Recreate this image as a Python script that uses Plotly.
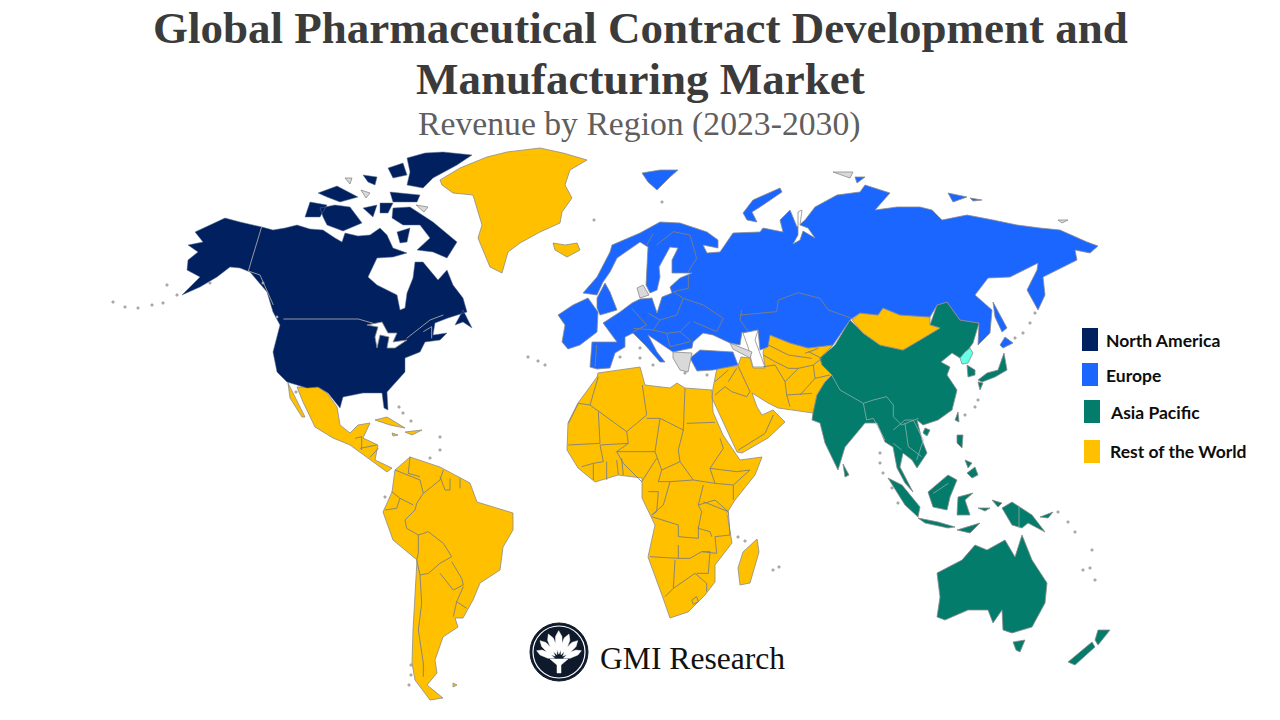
import plotly.graph_objects as go

# Map outlines, in picture pixels (x, y)
na_main = [(225,218),(240,222),(262,227),(273,230),(285,228),(297,225),(310,229),(323,230),(335,238),(342,242),(345,233),(358,236),(370,235),(380,228),(387,235),
           (393,248),(407,253),(393,257),(377,258),(372,268),(368,277),(377,285),(397,295),(400,310),(405,308),(407,293),
           (413,278),(415,262),(423,262),(438,280),(447,270),(453,285),(463,298),(467,312),(448,318),(435,323),
           (433,335),(447,333),(440,340),(425,342),(420,352),(405,358),(405,372),(387,392),(388,410),(384,408),
           (382,393),(363,393),(343,397),(340,408),(328,393),(318,387),(307,388),(287,382),(277,372),(273,352),
           (280,325),(273,312),(267,292),(250,272),(240,268),(230,267),(217,277),(200,287),(182,295),(200,277),(187,270),
           (188,260),(198,252),(188,245),(203,242),(195,232),(210,225)]
baffin = [(393,208),(410,207),(433,222),(445,232),(457,242),(447,258),(433,252),(417,250),(430,238),(420,225),(403,225),(392,218)]
victoria = [(320,208),(335,205),(350,207),(362,223),(343,231),(327,225),(323,217)]
banks = [(310,202),(327,205),(320,217),(305,217)]
ellesmere = [(407,158),(425,153),(443,152),(472,155),(457,165),(433,178),(423,188),(407,185),(410,172)]
axel = [(388,168),(403,163),(407,175),(393,178)]
melville = [(318,193),(337,186),(358,197),(340,202),(327,197)]
bathurst = [(363,175),(377,177),(375,185),(368,182)]
devon = [(390,192),(420,195),(417,202),(393,202)]
somerset = [(380,203),(393,203),(388,213),(380,213)]
pr_wales = [(363,208),(377,205),(373,217)]
southampton = [(397,232),(410,228),(407,242),(400,243)]
newfoundland = [(455,325),(463,310),(472,328),(463,322)]
lakes = [(367,325),(382,322),(388,333),(397,333),(393,342),(407,340),(395,348),(387,348),(389,337),(380,335),(377,348),(375,337),(378,327)]

greenland = [(440,180),(460,168),(487,157),(507,152),(540,148),(563,153),(587,160),(570,170),(565,185),(572,198),
             (562,212),(560,223),(540,232),(520,243),(508,252),(502,273),(490,267),(478,238),(482,225),(478,212),
             (473,195),(453,193),(442,185)]
iceland = [(553,243),(565,245),(577,243),(580,250),(567,257),(555,250)]

eurasia = [(583,293),(597,277),(610,252),(612,245),(640,233),(660,222),(680,223),(707,232),(718,240),(718,248),
           (703,245),(707,253),(720,252),(727,242),(733,233),(760,232),(763,228),(783,232),(780,220),(790,210),
           (797,227),(805,220),(815,207),(837,195),(860,192),(865,185),(890,193),(875,210),(897,207),(920,207),
           (932,210),(942,220),(967,215),(993,220),(1017,225),(1040,228),(1060,230),(1087,242),(1098,246),(1090,253),
           (1075,250),(1077,260),(1057,270),(1043,277),(1045,295),(1038,310),(1027,290),(1037,270),(1038,263),(1030,267),
           (1010,277),(988,278),(975,295),(992,310),(990,333),(978,345),(979,323),(960,320),(947,302),(937,305),
           (930,317),(900,315),(883,308),(878,315),(860,313),(850,320),(833,345),(808,348),(790,343),(770,335),
           (768,347),(760,350),(758,330),(743,333),(742,332),(740,345),(730,343),(713,335),(703,333),(693,342),
           (692,348),(673,352),(648,335),(657,352),(665,362),(660,362),(645,345),(633,333),(625,337),(625,347),
           (615,353),(610,368),(597,369),(590,367),(592,342),(617,342),(603,323),(620,312),(632,303),(640,299),
           (652,298),(657,313),(662,297),(672,293),(670,287),(680,278),(692,273),(672,273),(672,260),(678,248),
           (670,247),(659,267),(660,277),(657,290),(650,293),(646,285),(647,258),(648,247),(640,242),(617,258),
           (610,272),(603,282),(597,295)]
ireland = [(558,315),(573,305),(588,298),(598,312),(597,332),(580,345),(568,349),(562,342),(565,325)]
britain = [(597,298),(605,283),(610,292),(617,310),(607,313),(600,315),(597,308)]
turkey = [(690,358),(700,350),(733,352),(738,365),(713,370),(697,371)]
svalbard = [(642,173),(660,170),(678,170),(670,177),(657,190),(648,182)]
novaya = [(743,213),(753,200),(780,188),(782,192),(760,207),(752,212),(757,222),(747,220)]
severnaya = [(855,177),(865,177),(857,183)]
new_siberia = [(948,193),(967,197),(953,202)]
new_siberia2 = [(970,198),(982,200),(973,201)]
sakhalin = [(993,302),(1007,328),(1002,332),(995,317)]
hokkaido = [(1005,337),(1013,343),(1003,348),(1000,345)]
ob_gulf = [(798,212),(802,210),(800,225),(808,228),(815,238),(803,231),(800,240),(793,244),(798,235)]
caspian = [(743,333),(758,330),(755,340),(765,367),(753,367),(748,347)]

denmark = [(637,288),(643,285),(649,295),(640,298)]
greece = [(673,352),(692,353),(688,372),(680,370),(673,358)]
caucasus = [(730,343),(752,352),(750,358),(740,353),(733,349)]
franz_josef = [(833,172),(853,172),(850,178)]
wrangel = [(1058,220),(1068,220),(1062,223)]
queen_eliz = [(345,178),(352,178),(350,184)]
arctic_gray1 = [(416,205),(428,207),(424,212)]
arctic_gray2 = [(361,190),(370,193),(366,198)]

asia_main = [(979,323),(973,343),(968,350),(960,358),(952,353),(941,362),(950,367),(947,375),(957,390),(952,410),
             (938,420),(923,425),(917,420),(922,440),(927,453),(917,468),(912,460),(903,453),(900,467),(913,492),
             (905,483),(897,468),(893,447),(885,442),(877,423),(865,423),(845,447),(838,470),(825,443),(820,423),
             (812,420),(813,413),(817,395),(825,382),(832,375),(822,365),(820,358),(835,345),(850,320),(863,333),
             (880,345),(903,350),(920,340),(940,328),(930,325),(937,305),(947,302),(960,320)]
s_korea = [(967,365),(975,370),(975,375),(968,377)]
honshu = [(1004,353),(1007,370),(995,377),(982,382),(978,380),(987,373),(998,370)]
kyushu = [(978,382),(983,383),(980,390)]
taiwan = [(958,412),(959,422),(955,420)]
hainan = [(925,428),(930,430),(927,436),(923,433)]
sri_lanka = [(843,464),(849,475),(845,477)]
luzon = [(957,435),(963,435),(962,448),(957,443)]
visayas = [(965,460),(972,463),(968,468)]
mindanao = [(967,473),(975,467),(978,475),(972,478)]
borneo = [(928,492),(948,475),(957,480),(950,497),(947,510),(933,507)]
sumatra = [(888,478),(902,485),(920,507),(918,517),(905,505)]
java = [(918,518),(938,522),(955,527),(948,528),(925,523)]
sulawesi = [(958,497),(973,493),(965,500),(970,515),(957,515)]
new_guinea = [(1002,508),(1012,502),(1032,515),(1045,532),(1028,523),(1022,528),(1012,525)]
birds_head = [(992,500),(1002,503),(998,507)]
sunda = [(957,530),(980,523),(970,533)]
ceram = [(978,508),(990,508),(985,511)]
new_britain = [(1040,517),(1053,512),(1048,518)]
australia = [(937,573),(962,560),(975,545),(987,550),(1005,540),(1015,557),(1022,535),(1032,560),(1047,583),(1045,603),
             (1032,627),(1012,633),(1003,630),(1002,610),(993,623),(988,610),(968,610),(945,620),(937,617),(940,597)]
tasmania = [(1013,642),(1025,640),(1020,652),(1016,650)]
nz_south = [(1068,662),(1092,642),(1095,647),(1075,665)]
nz_north = [(1098,630),(1110,630),(1098,645),(1095,640)]
n_korea = [(970,348),(973,353),(968,363),(962,364),(960,358),(965,352)]

mongolia = [(852,320),(860,313),(878,315),(883,308),(900,315),(930,317),(930,325),(940,328),(920,340),(903,350),(880,345),(863,333)]
mideast = [(715,378),(717,368),(738,366),(741,357),(750,358),(753,368),(765,368),(763,352),(768,337),(770,335),(790,343),(808,348),(833,345),(820,358),(822,365),
           (832,375),(825,382),(817,395),(813,413),(792,410),(778,408),(768,403),(752,393),(757,407),(762,415),(773,410),
           (785,422),(768,438),(742,453),(737,452),(715,403),(712,398),(713,388)]
africa = [(598,373),(640,367),(645,385),(670,388),(677,383),(685,388),(712,390),(713,412),(723,435),(740,460),(762,457),
          (755,475),(735,500),(727,513),(732,543),(715,565),(715,582),(705,595),(688,612),(670,618),(663,598),(648,557),
          (655,525),(642,498),(642,478),(618,475),(595,482),(578,468),(567,450),(568,423),(578,403),(597,377)]
madagascar = [(757,539),(759,552),(750,583),(740,585),(738,568),(743,552)]
south_america = [(410,457),(440,467),(470,483),(477,502),(513,513),(513,530),(503,547),(500,570),(480,583),(473,600),(463,618),
                 (455,618),(458,627),(443,637),(435,660),(437,673),(427,685),(443,698),(430,700),(415,680),(412,663),(413,630),
                 (417,560),(393,540),(383,512),(392,492),(395,470)]
mexico = [(297,387),(318,387),(327,393),(337,407),(340,425),(350,433),(358,425),(370,423),(363,438),(378,445),(375,460),
          (392,468),(387,472),(370,460),(350,445),(333,438),(315,427),(303,402)]
baja = [(288,383),(298,403),(305,417),(302,417),(290,398)]
cuba = [(375,420),(387,417),(405,428),(390,425)]
hispaniola = [(405,432),(422,430),(412,435)]
jamaica = [(392,433),(398,435),(393,436)]
falklands = [(453,683),(457,685),(453,687)]

# Borders: (crop left, crop top, lines in 3x crop pixels)
na_borders = (110, 145, [
    [(455,245),(415,378),(450,390),(490,480)],
    [(520,522),(745,522),(790,535)],
    [(890,580),(960,525),(1000,510)],
    [(940,560),(965,545),(965,580)]])
europe_borders = (440, 145, [
    [(575,490),(620,540),(580,560)], [(625,505),(660,525),(710,510)], [(660,525),(640,555),(580,550)],
    [(640,555),(680,565),(720,560),(750,530)], [(710,510),(730,460),(790,480)], [(730,460),(700,440),(745,430),(745,390)],
    [(745,380),(770,340),(750,270),(700,260)], [(650,300),(700,260)], [(620,300),(640,265)],
    [(790,480),(850,520),(830,560),(760,530)], [(680,565),(690,605),(750,590)], [(720,560),(755,590)],
    [(905,495),(900,525),(925,560)], [(470,600),(465,665)]])
russia_borders = (740, 170, [
    [(0,435),(60,430),(110,425),(115,390),(175,368),(240,385),(265,420),(335,445)]])
africa_borders = (555, 335, [
    [(105,210),(215,290),(275,240),(262,150)], [(130,125),(105,210),(70,205),(40,265)], [(130,230),(135,325),(40,330)],
    [(215,290),(220,325),(135,330)], [(275,250),(315,250),(385,285),(390,160)], [(395,265),(480,262)],
    [(315,250),(300,350),(320,405),(375,380),(370,345),(385,285)], [(220,325),(185,350),(300,350)],
    [(135,330),(145,380),(115,385)], [(185,350),(205,385),(260,440),(305,370)], [(320,405),(310,440),(345,440),(415,435),(375,380)],
    [(415,435),(480,445),(465,400),(505,340),(495,310)], [(465,400),(545,410),(585,405),(535,450),(535,495)],
    [(480,445),(535,450)], [(345,440),(325,510),(290,540)], [(445,450),(430,510),(440,530),(430,580),(465,590),(470,605)],
    [(430,510),(480,495),(520,530)], [(445,500),(520,530),(525,600),(480,605)], [(290,545),(370,570),(370,605),(430,610),(430,575)],
    [(285,665),(370,670),(370,630)], [(360,675),(355,760),(330,785)], [(355,760),(420,715),(455,745),(455,770)],
    [(370,670),(405,670),(440,650),(465,650),(460,715),(425,715)], [(440,650),(485,655),(480,605)],
    [(80,395),(115,385),(115,435)], [(155,380),(155,435)], [(185,375),(190,420)], [(200,370),(205,420)],
    [(280,470),(310,470),(305,530),(290,540)], [(410,795),(425,785),(430,800),(415,808),(410,795)],
    # Middle East
    [(480,180),(510,155),(530,170),(575,185)], [(545,100),(520,140)], [(480,140),(520,105)], [(575,185),(585,170),(550,95)],
    [(625,95),(660,90),(690,140),(695,180),(705,215)], [(695,180),(770,175)], [(690,140),(730,100),(775,90),(780,130),(735,180)],
    [(780,130),(825,120)], [(625,60),(660,80),(700,100),(730,100)], [(640,30),(700,60),(770,70)], [(760,50),(800,70),(775,90)],
    [(550,345),(630,295)], [(630,295),(655,240)], [(750,55),(790,40)]])
sa_borders = (280, 370, [
    [(345,300),(420,330),(430,370),(410,400),(405,420)], [(390,260),(385,310),(420,320)], [(430,370),(480,330),(490,300)],
    [(480,320),(495,360),(510,360),(510,325)], [(540,325),(540,355)], [(335,365),(360,385),(400,405)], [(315,420),(350,415),(360,385)],
    [(405,420),(375,450),(380,475),(415,495),(415,550),(410,570)], [(415,495),(445,485),(490,520),(515,560),(480,580),(445,610),(420,615),(410,570)],
    [(515,575),(545,625),(550,645),(520,660),(480,610)], [(550,650),(530,695),(560,715)], [(420,615),(425,700),(415,780),(430,880),(430,920)],
    [(530,695),(520,740)], [(225,205),(245,200),(245,240)], [(240,235),(290,225)], [(270,262),(295,235)]])
asia_borders = (805, 340, [
    [(80,105),(105,150),(175,190),(205,180),(245,170),(265,195),(265,230),(290,255),(340,235)], [(175,190),(185,240),(205,235)],
    [(205,235),(240,300)], [(265,270),(300,240),(325,240),(355,300),(335,360)], [(300,250),(310,320),(350,350)], [(290,330),(265,310)],
    [(385,460),(430,430)], [(642,500),(642,565)]])

# Tiny islands, picture pixels
island_x = [113,125,138,152,163,177,167,210,277,263,296,399,403,411,440,440,430,978,975,965,
            1035,1030,1023,1015,880,880,883,892,898,1058,1068,1075,1092,1095,1083,1090,738,745,773,779,
            528,538,545,620,640,640,653,685,707,594,662,411,411,409,385]
island_y = [302,307,308,305,303,295,285,283,317,283,392,407,413,421,437,450,458,400,407,415,
            313,323,333,338,453,463,473,488,503,512,522,532,550,580,570,568,537,541,570,567,
            357,361,365,357,348,358,365,373,375,220,202,665,675,685,497]

# Legend
legend_names = ["North America", "Europe", "Asia Pacific", "Rest of the World"]
legend_colors = ["#002060", "#1A66FF", "#047C6B", "#FFC000"]
legend_box_x = [1082, 1082, 1084, 1084]
legend_box_y = [328, 363, 400, 440]
legend_text_x = [1104, 1104, 1108, 1108]
legend_text_y = [340, 375, 412, 451]

# Logo fan tips, 3x crop pixels of the (510,610) crop
fan_tips = [(80,122),(90,92),(115,72),(146,62),(177,72),(203,92),(214,122)]


def to_page(crop):
    left, top, lines = crop
    return [[(left + x / 3, top + y / 3) for x, y in line] for line in lines]


def ring_xy(rings):
    xs, ys = [], []
    for ring in rings:
        xs += [p[0] for p in ring] + [ring[0][0], None]
        ys += [p[1] for p in ring] + [ring[0][1], None]
    return xs, ys


def line_xy(lines):
    xs, ys = [], []
    for line in lines:
        xs += [p[0] for p in line] + [None]
        ys += [p[1] for p in line] + [None]
    return xs, ys


fig = go.Figure()


def land(rings, color, edge="#8C8C8C", width=0.8):
    xs, ys = ring_xy(rings)
    fig.add_trace(go.Scatter(x=xs, y=ys, mode="lines", fill="toself", fillcolor=color,
                             line=dict(color=edge, width=width), hoverinfo="skip", showlegend=False))


def borders(crops, color="#7F7F7F", width=0.9):
    lines = []
    for c in crops:
        lines += to_page(c)
    xs, ys = line_xy(lines)
    fig.add_trace(go.Scatter(x=xs, y=ys, mode="lines", line=dict(color=color, width=width),
                             hoverinfo="skip", showlegend=False))


land([mideast, africa, madagascar, south_america, mexico, baja, cuba, hispaniola, jamaica, falklands,
      greenland, iceland], "#FFC000")
land([asia_main, s_korea, honshu, kyushu, taiwan, hainan, sri_lanka, luzon, visayas, mindanao, borneo, sumatra,
      java, sulawesi, new_guinea, birds_head, sunda, ceram, new_britain, australia, tasmania, nz_south, nz_north], "#047C6B")
land([mongolia], "#FFC000")
land([eurasia, ireland, britain, turkey, svalbard, novaya, severnaya, new_siberia, new_siberia2, sakhalin, hokkaido], "#1A66FF")
land([ob_gulf, caspian], "#FFFFFF")
land([denmark, greece, caucasus, franz_josef, wrangel, queen_eliz, arctic_gray1, arctic_gray2], "#D9D9D9")
land([na_main, baffin, victoria, banks, ellesmere, axel, melville, bathurst, devon, somerset, pr_wales,
      southampton, newfoundland], "#002060", edge="#5F6F8F", width=0.5)
land([lakes], "#FFFFFF")
land([n_korea], "#66FFE8")
borders([europe_borders, russia_borders, africa_borders, sa_borders])
borders([na_borders], color="#A6A6A6")
borders([asia_borders], color="#A0B4B0", width=0.7)

fig.add_trace(go.Scatter(x=island_x, y=island_y, mode="markers",
                         marker=dict(size=2.5, color="#BFBFBF", line=dict(color="#808080", width=0.5)),
                         hoverinfo="skip", showlegend=False))

# Logo
logo = "#0E1A2B"
fig.add_shape(type="circle", x0=530, x1=588, y0=623, y1=681, fillcolor=logo, line=dict(color=logo, width=1), layer="below")
fig.add_shape(type="circle", x0=533, x1=585, y0=626, y1=678, line=dict(color="#FFFFFF", width=1.2), layer="below")
petals = []
hub_x, hub_y = 559, 660
for tx, ty in fan_tips:
    tip_x, tip_y = 510 + tx / 3, 610 + ty / 3
    dx, dy = tip_x - hub_x, tip_y - hub_y
    px, py = -dy * 0.11, dx * 0.11
    a_x, a_y = hub_x + dx * 0.45, hub_y + dy * 0.45
    b_x, b_y = hub_x + dx * 0.8, hub_y + dy * 0.8
    petals.append([(hub_x + dx * 0.2, hub_y + dy * 0.2), (a_x + px, a_y + py), (b_x + px, b_y + py), (tip_x, tip_y),
                   (b_x - px, b_y - py), (a_x - px, a_y - py)])
petals.append([(550, 659), (568, 659), (561, 665), (561, 673), (557, 673), (557, 665)])
land(petals, "#FFFFFF", edge="#FFFFFF", width=0.5)

for name, color, bx, by, tx, ty in zip(legend_names, legend_colors, legend_box_x, legend_box_y, legend_text_x, legend_text_y):
    fig.add_shape(type="rect", x0=bx, x1=bx + 16, y0=by, y1=by + 23, fillcolor=color, line_width=0)
    fig.add_annotation(x=tx, y=ty, text=f"<b>{name}</b>", showarrow=False, xanchor="left", yanchor="middle",
                       font=dict(family="Lato", size=17.5, color="#0D0D0D"))

title_font = dict(family="Liberation Serif", size=45, color="#3B3B3B")
fig.add_annotation(x=640, y=28, text="<b>Global Pharmaceutical Contract Development and</b>", showarrow=False, font=title_font)
fig.add_annotation(x=640, y=79, text="<b>Manufacturing Market</b>", showarrow=False, font=title_font)
fig.add_annotation(x=639, y=124, text="Revenue by Region (2023-2030)", showarrow=False,
                   font=dict(family="Liberation Serif", size=33.7, color="#5F5F5F"))
fig.add_annotation(x=598, y=658, text="GMI Research", showarrow=False, xanchor="left",
                   font=dict(family="Liberation Serif", size=31.6, color="#111111"))

fig.update_xaxes(range=[0, 1280], visible=False, fixedrange=True)
fig.update_yaxes(range=[720, 0], visible=False, fixedrange=True)
fig.update_layout(width=1280, height=720, margin=dict(l=0, r=0, t=0, b=0),
                  paper_bgcolor="#FFFFFF", plot_bgcolor="#FFFFFF", showlegend=False)

# drop the page's default 8px body margin so picture pixels line up
fig.write_html("out.html", config={"displayModeBar": False}, post_script="document.body.style.margin='0';")
